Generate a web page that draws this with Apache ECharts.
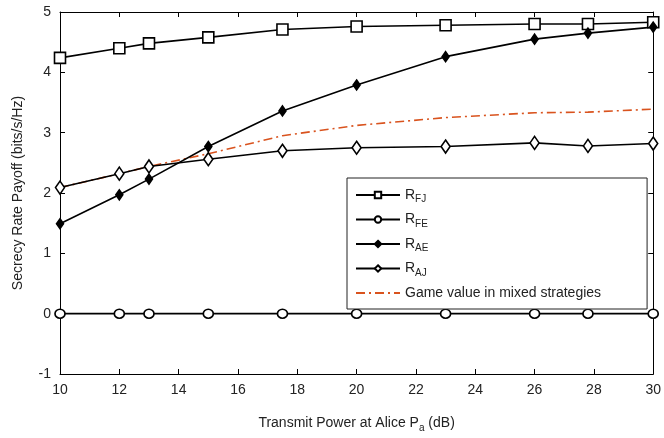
<!DOCTYPE html>
<html>
<head>
<meta charset="utf-8">
<script src="https://cdn.jsdelivr.net/npm/echarts@6/dist/echarts.min.js"></script>
<style>
  html, body { margin: 0; padding: 0; background: #fff; }
  #main { width: 664px; height: 438px; }
</style>
</head>
<body>
<div id="main"></div>
<script>
// 数据
var powerDb = [10, 12, 13, 15, 17.5, 20, 23, 26, 27.8, 30];
var rFJ = [4.24, 4.40, 4.48, 4.58, 4.71, 4.76, 4.78, 4.80, 4.80, 4.83];
var rFE = [0, 0, 0, 0, 0, 0, 0, 0, 0, 0];
var rAE = [1.49, 1.97, 2.23, 2.77, 3.36, 3.79, 4.26, 4.55, 4.65, 4.75];
var rAJ = [2.09, 2.32, 2.44, 2.56, 2.70, 2.75, 2.77, 2.83, 2.78, 2.82];
var gameValue = [2.09, 2.32, 2.44, 2.65, 2.95, 3.12, 3.25, 3.33, 3.34, 3.39];

function pairs(ys) {
    return powerDb.map(function (x, i) { return [x, ys[i]]; });
}

var font = 'Liberation Sans, Arial, sans-serif';
var black = '#000';

var subRich = {
    n: { fontSize: 14, fontFamily: font, color: '#222' },
    s: { fontSize: 10, fontFamily: font, color: '#222', padding: [9, 0, 0, 0] }
};

var myChart = echarts.init(document.getElementById('main'));

function mkLine(name, data, symbol, size, fill) {
    return {
        name: name,
        type: 'line',
        data: pairs(data),
        symbol: symbol,
        symbolSize: size,
        showAllSymbol: true,
        z: 3,
        lineStyle: { color: black, width: 1.6 },
        itemStyle: { color: fill, borderColor: black, borderWidth: 1.6 },
        emphasis: { disabled: true }
    };
}

var axisLine = { show: true, onZero: false, lineStyle: { color: black, width: 1 } };
var axisTick = { show: true, inside: true, length: 5, lineStyle: { color: black } };

var option = {
    animation: false,
    grid: { left: 60, right: 10, top: 12, bottom: 60, containLabel: false },
    legend: {
        orient: 'vertical',
        left: 347,
        top: 178,
        width: 301,
        padding: [10, 46, 9, 8],
        itemGap: 8,
        itemWidth: 44,
        itemHeight: 8,
        borderColor: '#222',
        borderWidth: 1,
        backgroundColor: '#fff',
        data: ['R_FJ', 'R_FE', 'R_AE', 'R_AJ',
            { name: 'Game value in mixed strategies', itemStyle: { opacity: 0 } }],
        formatter: function (name) {
            if (name.indexOf('R_') === 0) {
                return '{n|R}{s|' + name.slice(2) + '}';
            }
            return '{n|' + name + '}';
        },
        textStyle: { rich: subRich, fontSize: 14, fontFamily: font, color: '#222' }
    },
    xAxis: [{
        type: 'value',
        min: 10, max: 30, interval: 2,
        name: '{n|Transmit Power at Alice P}{s|a}{n| (dB)}',
        nameLocation: 'middle',
        nameGap: 40,
        nameTextStyle: { rich: subRich },
        axisLine: axisLine,
        axisTick: axisTick,
        axisLabel: { color: '#222', fontSize: 14, fontFamily: font, margin: 9 },
        splitLine: { show: false }
    }, {
        type: 'value',
        position: 'top',
        min: 10, max: 30, interval: 2,
        axisLine: axisLine,
        axisTick: axisTick,
        axisLabel: { show: false },
        splitLine: { show: false }
    }],
    yAxis: [{
        type: 'value',
        min: -1, max: 5, interval: 1,
        name: 'Secrecy Rate Payoff (bits/s/Hz)',
        nameLocation: 'middle',
        nameGap: 35,
        nameTextStyle: { fontSize: 14, fontFamily: font, color: '#222' },
        axisLine: axisLine,
        axisTick: axisTick,
        axisLabel: { color: '#222', fontSize: 14, fontFamily: font, margin: 9 },
        splitLine: { show: false }
    }, {
        type: 'value',
        position: 'right',
        min: -1, max: 5, interval: 1,
        axisLine: axisLine,
        axisTick: axisTick,
        axisLabel: { show: false },
        splitLine: { show: false }
    }],
    series: [
        {
            name: 'Game value in mixed strategies',
            type: 'line',
            data: pairs(gameValue),
            symbol: 'none',
            z: 2,
            lineStyle: { color: '#d9531e', width: 1.6, type: [9, 4, 2, 4] },
            itemStyle: { color: '#d9531e' },
            emphasis: { disabled: true }
        },
        mkLine('R_FJ', rFJ, 'rect', 11, '#fff'),
        mkLine('R_FE', rFE, 'circle', [10, 9], '#fff'),
        mkLine('R_AE', rAE, 'diamond', [7, 10], black),
        mkLine('R_AJ', rAJ, 'diamond', [9, 13], '#fff')
    ]
};
myChart.setOption(option);
</script>
</body>
</html>
